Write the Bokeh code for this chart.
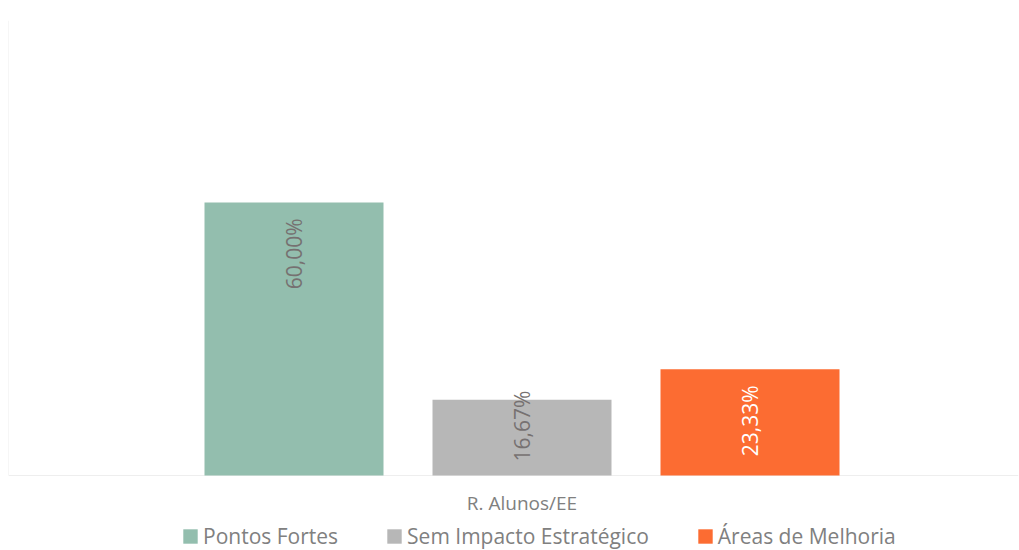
from bokeh.plotting import figure
from bokeh.models import ColumnDataSource, Range1d, Legend, LegendItem
from bokeh.core.properties import value
from bokeh.embed import file_html
from bokeh.resources import INLINE

categories = ["R. Alunos/EE"]
series = ["Pontos Fortes", "Sem Impacto Estratégico", "Áreas de Melhoria"]
values = [60.00, 16.67, 23.33]
colors = ["#93BEAE", "#B7B7B7", "#FC6C32"]
label_colors = ["#767171", "#767171", "#FFFFFF"]

FONT = "Open Sans"
W, H = 1019, 550
B_LEFT, B_RIGHT, B_TOP = 8, 1, 20
frame_w = W - B_LEFT - B_RIGHT          # 1010
plot_h = 455                              # px from 0% to 100%
below_h = H - B_TOP - plot_h              # px below the baseline (for label + legend)
px_per_unit = plot_h / 100.0
y_start = -below_h / px_per_unit

x_start = -513.5 / frame_w
x_end = 496.5 / frame_w

p = figure(width=W, height=H, output_backend="svg", toolbar_location=None,
           x_range=Range1d(x_start, x_end), y_range=Range1d(y_start, 100),
           min_border_left=B_LEFT, min_border_right=B_RIGHT, min_border_top=B_TOP,
           min_border_bottom=0)
p.outline_line_color = None
p.grid.visible = False
p.xaxis.visible = False
p.yaxis.visible = False
p.background_fill_color = "white"
p.border_fill_color = "white"

# faint plot-area border (left and bottom)
p.segment(x0=[x_start, x_start], y0=[0, 0], x1=[x_start, x_end], y1=[100, 0],
          line_color="#EEEEEE", line_width=1)

# category label under the baseline
cat_src = ColumnDataSource(dict(x=list(range(len(categories))), y=[0] * len(categories), t=categories))
p.text(x="x", y="y", text="t", source=cat_src, y_offset=27, text_align="center",
       text_baseline="middle", text_color="#808080", text_font=value(FONT), text_font_size="19px")

bar_w = 179 / frame_w
step = 228 / frame_w
n = len(series)
text_len = 70

items = []
for i, (s, v, c, lc) in enumerate(zip(series, values, colors, label_colors)):
    x = 0 + (i - (n - 1) / 2) * step
    src = ColumnDataSource(dict(x=[x], top=[v], base=[0], lab=[f"{v:.2f}%".replace(".", ",")]))
    r = p.vbar(x="x", top="top", width=bar_w, bottom="base", source=src, fill_color=c, line_color=None)
    items.append(LegendItem(label=s, renderers=[r]))
    if v * px_per_unit >= text_len + 32:
        p.text(x="x", y="top", text="lab", source=src, angle=1.5708, text_align="right",
               text_baseline="middle", y_offset=16, text_color=lc,
               text_font=value(FONT), text_font_size="21px")
    else:
        p.text(x="x", y="base", text="lab", source=src, angle=1.5708, text_align="left",
               text_baseline="middle", y_offset=-14, text_color=lc,
               text_font=value(FONT), text_font_size="21px")

legend = Legend(items=items, orientation="horizontal", location=(173, 0),
                glyph_width=18, glyph_height=18, label_standoff=4, spacing=47,
                label_text_font=FONT, label_text_font_size="21px", label_text_color="#808080",
                label_text_baseline="middle",
                border_line_color=None, background_fill_alpha=0, padding=0, margin=0)
p.add_layout(legend, "center")

open("out.html", "w").write(file_html(p, INLINE))
